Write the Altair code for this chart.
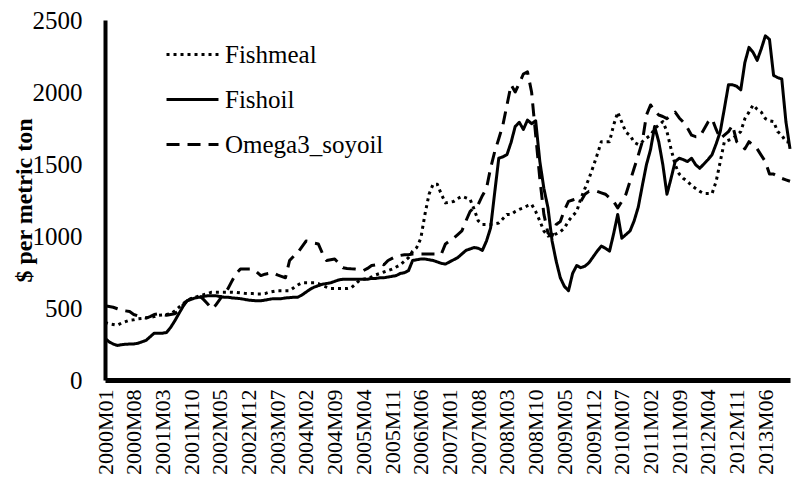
import altair as alt
import pandas as pd

months = [f"{y}M{m:02d}" for y in range(2000, 2014) for m in range(1, 13)]

tick_labels = ["2000M01", "2000M08", "2001M03", "2001M10", "2002M05", "2002M12",
               "2003M07", "2004M02", "2004M09", "2005M04", "2005M11", "2006M06",
               "2007M01", "2007M08", "2008M03", "2008M10", "2009M05", "2009M12",
               "2010M07", "2011M02", "2011M09", "2012M04", "2012M11", "2013M06"]

y_ticks = [0, 500, 1000, 1500, 2000, 2500]

series_names = ["Fishmeal", "Fishoil", "Omega3_soyoil"]

fishmeal = [
    400, 390, 385, 380, 395, 405, 415, 418, 425, 428, 432, 435,      # 2000
    440, 450, 452, 455, 460, 480, 505, 530, 550, 565, 575, 585,      # 2001
    592, 600, 610, 610, 610, 610, 610, 610, 608, 605, 602, 600,      # 2002
    600, 598, 598, 600, 610, 615, 620, 620, 620, 620, 640, 660,      # 2003
    675, 675, 675, 675, 670, 655, 645, 635, 635, 635, 635, 635,      # 2004
    640, 665, 690, 700, 705, 715, 730, 740, 750, 760, 770, 785,      # 2005
    800, 825, 850, 895, 920, 985, 1150, 1290, 1360, 1360, 1290, 1230,  # 2006
    1235, 1240, 1260, 1275, 1265, 1255, 1185, 1105, 1080, 1080, 1080, 1085,  # 2007
    1090, 1120, 1150, 1150, 1170, 1185, 1195, 1210, 1220, 1170, 1105, 1035,  # 2008
    1000, 1005, 1015, 1030, 1055, 1105, 1140, 1170, 1260, 1330, 1400, 1480,  # 2009
    1565, 1655, 1655, 1655, 1770, 1860, 1790, 1720, 1700, 1650, 1635, 1655,  # 2010
    1680, 1700, 1745, 1770, 1795, 1725, 1605, 1495, 1430, 1400, 1380, 1350,  # 2011
    1330, 1310, 1295, 1295, 1295, 1380, 1517, 1655, 1665, 1675, 1700, 1725,  # 2012
    1815, 1860, 1910, 1880, 1860, 1815, 1800, 1795, 1725, 1700, 1655, 1650,  # 2013
]

fishoil = [
    290, 265, 250, 240, 245, 248, 250, 250, 255, 265, 275, 300,      # 2000
    325, 325, 325, 330, 365, 410, 460, 510, 550, 560, 570, 575,      # 2001
    580, 585, 585, 585, 580, 575, 575, 570, 568, 565, 560, 555,      # 2002
    552, 550, 550, 555, 560, 565, 565, 565, 570, 572, 575, 575,      # 2003
    590, 610, 630, 645, 655, 665, 670, 675, 685, 695, 700, 700,      # 2004
    700, 700, 700, 700, 700, 705, 705, 710, 710, 715, 720, 725,      # 2005
    740, 745, 760, 830, 835, 840, 840, 835, 830, 820, 810, 805,      # 2006
    820, 835, 850, 875, 900, 910, 920, 915, 900, 965, 1055, 1300,    # 2007
    1540, 1550, 1565, 1650, 1760, 1790, 1740, 1805, 1780, 1800, 1520, 1330,  # 2008
    1195, 965, 825, 710, 650, 620, 740, 795, 780, 790, 815, 855,     # 2009
    895, 930, 915, 895, 1015, 1150, 985, 1010, 1035, 1105, 1200, 1350,  # 2010
    1495, 1600, 1760, 1655, 1495, 1290, 1400, 1517, 1540, 1530, 1517, 1540,  # 2011
    1495, 1470, 1500, 1530, 1565, 1640, 1725, 1885, 2050, 2050, 2040, 2015,  # 2012
    2205, 2310, 2275, 2220, 2300, 2390, 2365, 2115, 2100, 2090, 1795, 1605,  # 2013
]

omega3_soyoil = [
    515, 510, 505, 495, 485, 480, 475, 455, 445, 435, 430, 440,      # 2000
    455, 460, 455, 450, 455, 460, 480, 520, 550, 565, 575, 585,      # 2001
    560, 530, 495, 520, 560, 600, 635, 690, 740, 770, 770, 770,      # 2002
    770, 750, 725, 735, 740, 745, 730, 720, 710, 830, 860, 885,      # 2003
    925, 965, 960, 950, 945, 880, 830, 835, 840, 810, 780, 775,      # 2004
    772, 770, 765, 760, 775, 795, 800, 810, 800, 830, 845, 860,      # 2005
    865, 870, 870, 875, 875, 875, 875, 875, 875, 875, 875, 945,      # 2006
    965, 985, 1010, 1035, 1105, 1170, 1200, 1220, 1280, 1330, 1470, 1585,  # 2007
    1675, 1770, 1910, 2050, 2000, 2060, 2125, 2140, 2000, 1700, 1400, 1150,  # 2008
    1020, 1000, 1080, 1100, 1180, 1240, 1250, 1260, 1240, 1290, 1310, 1310,  # 2009
    1310, 1300, 1290, 1265, 1240, 1195, 1240, 1290, 1380, 1470, 1560, 1655,  # 2010
    1840, 1910, 1870, 1840, 1830, 1815, 1840, 1860, 1820, 1790, 1750, 1700,  # 2011
    1690, 1690, 1740, 1790, 1815, 1740, 1675, 1700, 1725, 1770, 1655, 1630,  # 2012
    1605, 1655, 1630, 1605, 1560, 1517, 1430, 1430, 1415, 1400, 1390, 1380,  # 2013
]

rows = []
for name, vals in zip(series_names, [fishmeal, fishoil, omega3_soyoil]):
    for mo, v in zip(months, vals):
        rows.append({"month": mo, "series": name, "value": v})
df = pd.DataFrame(rows)

FONT = "Liberation Serif, Times New Roman, serif"

chart = alt.Chart(df).mark_line(
    strokeWidth=3, color="black", strokeJoin="round"
).encode(
    x=alt.X(
        "month:O", sort=months,
        scale=alt.Scale(type="point", padding=0),
        axis=alt.Axis(
            values=tick_labels, labelAngle=-90, title=None, ticks=False,
            labelPadding=9, labelFontSize=22, labelFont=FONT, labelColor="black",
            domainColor="black", domainWidth=5, grid=False,
        ),
    ),
    y=alt.Y(
        "value:Q",
        scale=alt.Scale(domain=[0, 2500], nice=False),
        axis=alt.Axis(
            values=y_ticks, format="d", title="$ per metric ton", ticks=False, grid=False,
            labelPadding=23, labelFontSize=25, labelFont=FONT, labelColor="black",
            titleFont=FONT, titleFontSize=24, titleFontWeight="bold", titleColor="black",
            titlePadding=-4, domainColor="black", domainWidth=4,
        ),
    ),
    strokeDash=alt.StrokeDash(
        "series:N",
        scale=alt.Scale(domain=series_names, range=[[3, 4], [1, 0], [13, 8]]),
        legend=alt.Legend(
            title=None, orient="none", legendX=60, legendY=7,
            symbolType="stroke", symbolSize=2700, symbolStrokeWidth=3,
            symbolStrokeColor="black", labelFont=FONT, labelFontSize=25,
            labelColor="black", labelOffset=5, rowPadding=4,
        ),
    ),
).properties(
    width=685, height=360,
    autosize=alt.AutoSizeParams(type="none"),
    padding={"left": 97, "top": 12, "right": 2, "bottom": 98},
).configure_view(stroke=None).configure_legend(
    labelFont=FONT, labelFontSize=25, labelColor="black"
).configure_axis(labelFont=FONT, titleFont=FONT)

chart.save("out.html", embed_options={"renderer": "svg", "actions": False})
